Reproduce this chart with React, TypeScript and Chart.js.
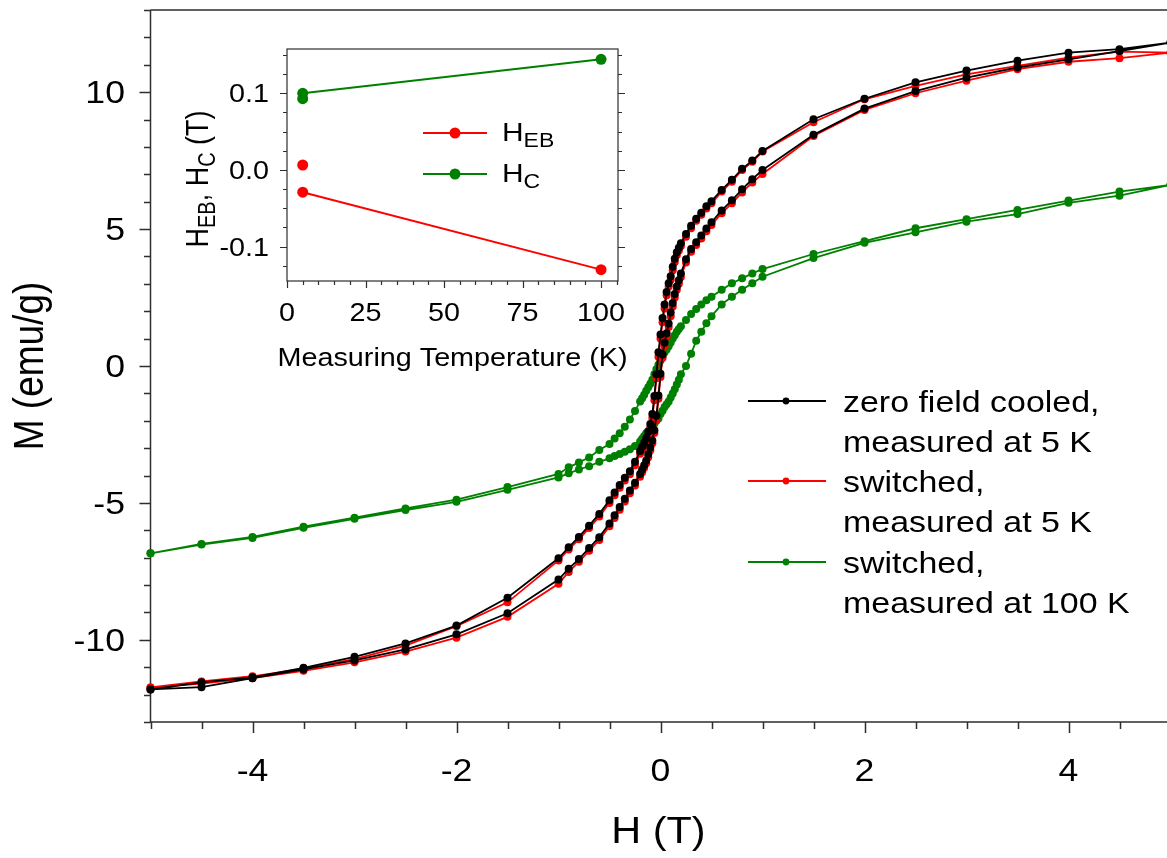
import React, { useEffect, useRef } from "react";
import { Chart, registerables } from "chart.js";
Chart.register(...registerables);

// ---------- main plot data: field (T), descending order 5 -> -5 ----------
const FIELD = [5, 4.5, 4, 3.5, 3, 2.5, 2, 1.5, 1, 0.9, 0.8, 0.7, 0.6, 0.5, 0.45, 0.4, 0.35, 0.3, 0.25, 0.2, 0.18, 0.16, 0.14, 0.12, 0.1, 0.08, 0.06, 0.04, 0.02, 0, -0.02, -0.04, -0.06, -0.08, -0.1, -0.12, -0.14, -0.16, -0.18, -0.2, -0.25, -0.3, -0.35, -0.4, -0.45, -0.5, -0.6, -0.7, -0.8, -0.9, -1, -1.5, -2, -2.5, -3, -3.5, -4, -4.5, -5];

// zero field cooled, measured at 5 K (black) - M (emu/g) at FIELD
const ZFC5_DOWN = [11.81, 11.57, 11.44, 11.15, 10.79, 10.36, 9.76, 9.01, 7.85, 7.5, 7.2, 6.8, 6.43, 6.02, 5.83, 5.6, 5.38, 5.12, 4.82, 4.48, 4.32, 4.15, 3.92, 3.62, 3.28, 3.02, 2.7, 2.25, 1.75, 1.15, 0.5, -0.3, -1.1, -1.75, -2.12, -2.4, -2.63, -2.8, -2.95, -3.1, -3.5, -3.84, -4.08, -4.35, -4.62, -4.9, -5.4, -5.83, -6.24, -6.62, -7.02, -8.46, -9.48, -10.13, -10.62, -11.02, -11.37, -11.55, -11.81];
const ZFC5_UP = [11.81, 11.5, 11.2, 10.9, 10.53, 10.04, 9.4, 8.44, 7.16, 6.82, 6.45, 6.05, 5.68, 5.25, 5.02, 4.77, 4.52, 4.27, 3.9, 3.38, 3.13, 2.9, 2.63, 2.3, 1.95, 1.55, 1.2, 0.85, 0.42, -0.28, -1.08, -1.82, -2.35, -2.72, -2.98, -3.22, -3.45, -3.62, -3.78, -3.94, -4.26, -4.55, -4.85, -5.15, -5.45, -5.75, -6.25, -6.65, -7.05, -7.4, -7.8, -9.03, -9.8, -10.35, -10.75, -11.08, -11.4, -11.73, -11.81];

// switched, measured at 5 K (red)
const SW5_DOWN = [11.44, 11.48, 11.26, 10.96, 10.65, 10.23, 9.74, 8.9, 7.83, 7.46, 7.16, 6.73, 6.37, 5.94, 5.75, 5.52, 5.3, 5.03, 4.72, 4.38, 4.22, 4.05, 3.8, 3.5, 3.15, 2.9, 2.58, 2.1, 1.6, 1.0, 0.34, -0.45, -1.25, -1.9, -2.25, -2.52, -2.75, -2.92, -3.06, -3.2, -3.62, -3.95, -4.18, -4.45, -4.72, -5.0, -5.5, -5.92, -6.33, -6.7, -7.1, -8.63, -9.5, -10.21, -10.7, -11.05, -11.33, -11.52, -11.74];
const SW5_UP = [11.44, 11.24, 11.11, 10.84, 10.42, 9.96, 9.35, 8.4, 7.01, 6.7, 6.34, 5.94, 5.58, 5.15, 4.92, 4.66, 4.42, 4.17, 3.78, 3.25, 3.0, 2.78, 2.5, 2.17, 1.82, 1.42, 1.07, 0.72, 0.3, -0.4, -1.2, -1.95, -2.45, -2.82, -3.08, -3.33, -3.55, -3.72, -3.88, -4.04, -4.36, -4.65, -4.95, -5.25, -5.55, -5.85, -6.35, -6.75, -7.15, -7.52, -7.95, -9.16, -9.92, -10.43, -10.82, -11.13, -11.4, -11.6, -11.74];

// switched, measured at 100 K (green)
const SW100_DOWN = [6.61, 6.37, 6.04, 5.7, 5.36, 5.03, 4.56, 4.09, 3.54, 3.38, 3.2, 3.02, 2.78, 2.53, 2.4, 2.25, 2.08, 1.9, 1.68, 1.45, 1.35, 1.25, 1.12, 1.0, 0.86, 0.72, 0.6, 0.5, 0.35, 0.2, 0.05, -0.12, -0.3, -0.5, -0.65, -0.78, -0.9, -1.05, -1.18, -1.3, -1.64, -1.95, -2.22, -2.46, -2.65, -2.85, -3.07, -3.34, -3.52, -3.7, -3.94, -4.42, -4.88, -5.2, -5.54, -5.87, -6.24, -6.5, -6.84];
const SW100_UP = [6.61, 6.22, 5.96, 5.55, 5.27, 4.88, 4.5, 3.94, 3.26, 3.02, 2.78, 2.53, 2.25, 1.82, 1.56, 1.25, 0.92, 0.45, 0.0, -0.3, -0.5, -0.68, -0.85, -1.0, -1.15, -1.3, -1.4, -1.5, -1.63, -1.75, -1.92, -2.0, -2.1, -2.19, -2.28, -2.37, -2.46, -2.56, -2.66, -2.76, -2.92, -3.04, -3.13, -3.21, -3.29, -3.37, -3.5, -3.66, -3.78, -3.92, -4.07, -4.52, -4.96, -5.26, -5.58, -5.91, -6.28, -6.52, -6.84];

const SERIES_LABELS = [
  ["zero field cooled,", "measured at 5 K"],
  ["switched,", "measured at 5 K"],
  ["switched,", "measured at 100 K"],
];
const SERIES_COLORS = ["#000000", "#ff0000", "#008000"];

const X_TICKS = [-4, -2, 0, 2, 4];
const Y_TICKS = [-10, -5, 0, 5, 10];

// ---------- inset data ----------
const INSET_TEMP = [5, 100];
const HEB = [-0.029, -0.13];
const HEB_5K_EXTRA = [0.0065];
const HC = [0.1, 0.1443];
const HC_5K_EXTRA = [0.093];
const INSET_X_TICKS = [0, 25, 50, 75, 100];
const INSET_Y_TICKS = [-0.1, 0, 0.1];
const INSET_Y_LABELS = ["-0.1", "0.0", "0.1"];

// ---------- text helpers ----------
const SX = 1.15;
const FAM = '"Liberation Sans", Arial, Helvetica, sans-serif';
const AXIS = "#2e2e2e";

type Run = { t: string; size: number; dy?: number };

function drawRuns(ctx: CanvasRenderingContext2D, parts: Run[], x: number, y: number, align: "left" | "center" | "right", rot = 0) {
  ctx.save();
  ctx.translate(x, y);
  ctx.scale(SX, 1);
  if (rot) ctx.rotate(rot);
  ctx.fillStyle = "#000";
  ctx.textBaseline = "alphabetic";
  ctx.textAlign = "left";
  const widths = parts.map((p) => {
    ctx.font = `${p.size}px ${FAM}`;
    return ctx.measureText(p.t).width;
  });
  const total = widths.reduce((a, b) => a + b, 0);
  let cx = align === "center" ? -total / 2 : align === "right" ? -total : 0;
  parts.forEach((p, i) => {
    ctx.font = `${p.size}px ${FAM}`;
    ctx.fillText(p.t, cx, p.dy || 0);
    cx += widths[i];
  });
  ctx.restore();
}
function text(ctx: CanvasRenderingContext2D, s: string, x: number, y: number, size: number, align: "left" | "center" | "right", rot = 0) {
  drawRuns(ctx, [{ t: s, size }], x, y, align, rot);
}

function loop(down: number[], up: number[]) {
  const pts: { x: number; y: number }[] = [];
  for (let i = 0; i < FIELD.length; i++) pts.push({ x: FIELD[i], y: down[i] });
  for (let i = FIELD.length - 1; i >= 0; i--) pts.push({ x: FIELD[i], y: up[i] });
  return pts;
}

const mainAxes = {
  id: "mainAxes",
  beforeDatasetsDraw(chart: any) {
    const { ctx, chartArea: a, scales } = chart;
    const xs = scales.x, ys = scales.y;
    ctx.save();
    ctx.strokeStyle = AXIS;
    ctx.lineWidth = 1.5;
    ctx.beginPath();
    ctx.moveTo(a.left, a.top);
    ctx.lineTo(a.right, a.top);
    ctx.moveTo(a.left, a.top);
    ctx.lineTo(a.left, a.bottom);
    ctx.lineTo(a.right, a.bottom);
    ctx.lineTo(a.right, a.top);
    for (let v = -13; v <= 13; v++) {
      const y = Math.round(ys.getPixelForValue(v)) + 0.5;
      const len = v % 5 === 0 ? 11 : 6.5;
      ctx.moveTo(a.left, y);
      ctx.lineTo(a.left - len, y);
    }
    for (let k = -10; k <= 10; k++) {
      const x = Math.round(xs.getPixelForValue(k / 2)) + 0.5;
      const len = k % 4 === 0 ? 11 : 7;
      ctx.moveTo(x, a.bottom);
      ctx.lineTo(x, a.bottom + len);
    }
    ctx.stroke();
    ctx.restore();
  },
  afterDraw(chart: any) {
    const { ctx, chartArea: a, scales } = chart;
    const xs = scales.x, ys = scales.y;
    const tsz = 31;
    Y_TICKS.forEach((v) => text(ctx, String(v), 125, ys.getPixelForValue(v) + 0.358 * tsz, tsz, "right"));
    X_TICKS.forEach((v) => text(ctx, String(v), xs.getPixelForValue(v), 781, tsz, "center"));
    text(ctx, "H (T)", (a.left + a.right) / 2 - 2, 843, 36, "center");
    text(ctx, "M (emu/g)", 43, (a.top + a.bottom) / 2, 37, "center", -Math.PI / 2);
    // legend
    const rows = [401, 481, 562];
    rows.forEach((y, i) => {
      ctx.save();
      ctx.strokeStyle = SERIES_COLORS[i];
      ctx.fillStyle = SERIES_COLORS[i];
      ctx.lineWidth = 1.8;
      ctx.beginPath();
      ctx.moveTo(748, y);
      ctx.lineTo(826, y);
      ctx.stroke();
      ctx.beginPath();
      ctx.arc(786, y, 3.4, 0, Math.PI * 2);
      ctx.fill();
      ctx.restore();
      text(ctx, SERIES_LABELS[i][0], 843, y + 11, 29.5, "left");
      text(ctx, SERIES_LABELS[i][1], 843, y + 51, 29.5, "left");
    });
  },
};

const insetDecor = {
  id: "insetDecor",
  beforeDatasetsDraw(chart: any) {
    const { ctx, chartArea: a, scales } = chart;
    const xs = scales.x, ys = scales.y;
    ctx.save();
    ctx.strokeStyle = AXIS;
    ctx.lineWidth = 1.2;
    ctx.strokeRect(a.left, a.top, a.right - a.left, a.bottom - a.top);
    ctx.beginPath();
    for (let k = -5; k <= 6; k++) {
      const v = k * 0.025;
      const y = Math.round(ys.getPixelForValue(v)) + 0.5;
      const major = k % 4 === 0;
      const len = major ? 7 : 4;
      ctx.moveTo(a.left, y);
      ctx.lineTo(a.left - len, y);
      ctx.moveTo(a.right, y);
      ctx.lineTo(a.right + len, y);
    }
    for (let v = 0; v <= 105; v += 5) {
      const x = Math.round(xs.getPixelForValue(v)) + 0.5;
      const len = v % 25 === 0 ? 7 : 4;
      ctx.moveTo(x, a.bottom);
      ctx.lineTo(x, a.bottom + len);
    }
    ctx.stroke();
    ctx.restore();
  },
  afterDraw(chart: any) {
    const { ctx, chartArea: a, scales } = chart;
    const xs = scales.x, ys = scales.y;
    const tsz = 25;
    INSET_Y_TICKS.forEach((v, i) => text(ctx, INSET_Y_LABELS[i], a.left - 18, ys.getPixelForValue(v) + 0.358 * tsz, tsz, "right"));
    INSET_X_TICKS.forEach((v) => text(ctx, String(v), xs.getPixelForValue(v), a.bottom + 40, tsz, "center"));
    text(ctx, "Measuring Temperature (K)", (a.left + a.right) / 2, a.bottom + 85, 25, "center");
    drawRuns(
      ctx,
      [
        { t: "H", size: 27 },
        { t: "EB", size: 20, dy: 6 },
        { t: ", H", size: 27 },
        { t: "C", size: 20, dy: 6 },
        { t: " (T)", size: 27 },
      ],
      28,
      a.top + 130,
      "center",
      -Math.PI / 2
    );
    // inset legend
    const rows = [
      { y: a.top + 84, c: "#ff0000", sub: "EB" },
      { y: a.top + 125, c: "#008000", sub: "C" },
    ];
    rows.forEach((r) => {
      ctx.save();
      ctx.strokeStyle = r.c;
      ctx.fillStyle = r.c;
      ctx.lineWidth = 2;
      ctx.beginPath();
      ctx.moveTo(a.left + 136, r.y);
      ctx.lineTo(a.left + 200, r.y);
      ctx.stroke();
      ctx.beginPath();
      ctx.arc(a.left + 168, r.y, 5.5, 0, Math.PI * 2);
      ctx.fill();
      ctx.restore();
      drawRuns(ctx, [{ t: "H", size: 26 }, { t: r.sub, size: 20, dy: 6 }], a.left + 215, r.y + 8, "left");
    });
  },
};

export default function App() {
  const mainRef = useRef<HTMLCanvasElement>(null);
  const insetRef = useRef<HTMLCanvasElement>(null);

  useEffect(() => {
    const ds = (data: any[], color: string) => ({
      data,
      showLine: true,
      borderColor: color,
      backgroundColor: color,
      pointBackgroundColor: color,
      pointBorderColor: color,
      pointBorderWidth: 0,
      pointRadius: 4,
      borderWidth: 1.8,
      tension: 0,
      clip: false as any,
    });
    const main = new Chart(mainRef.current as HTMLCanvasElement, {
      type: "scatter",
      data: {
        datasets: [
          ds(loop(ZFC5_DOWN, ZFC5_UP), SERIES_COLORS[0]),
          ds(loop(SW5_DOWN, SW5_UP), SERIES_COLORS[1]),
          ds(loop(SW100_DOWN, SW100_UP), SERIES_COLORS[2]),
        ],
      },
      options: {
        animation: false,
        responsive: false,
        devicePixelRatio: 1,
        layout: { padding: { left: 150.5, top: 10, right: 1190 - 1170.5, bottom: 858 - 722 } },
        scales: {
          x: { type: "linear", min: -5, max: 5, display: false },
          y: { type: "linear", min: -13, max: 13, display: false },
        },
        plugins: { legend: { display: false }, tooltip: { enabled: false } },
      },
      plugins: [mainAxes],
    });

    const ids = (data: any[], color: string, line: boolean) => ({
      data,
      showLine: line,
      borderColor: color,
      backgroundColor: color,
      pointBackgroundColor: color,
      pointBorderWidth: 0,
      pointRadius: 5.5,
      borderWidth: 2,
      clip: false as any,
    });
    const inset = new Chart(insetRef.current as HTMLCanvasElement, {
      type: "scatter",
      data: {
        datasets: [
          ids(INSET_TEMP.map((t, i) => ({ x: t, y: HEB[i] })), "#ff0000", true),
          ids(HEB_5K_EXTRA.map((y) => ({ x: INSET_TEMP[0], y })), "#ff0000", false),
          ids(INSET_TEMP.map((t, i) => ({ x: t, y: HC[i] })), "#008000", true),
          ids(HC_5K_EXTRA.map((y) => ({ x: INSET_TEMP[0], y })), "#008000", false),
        ],
      },
      options: {
        animation: false,
        responsive: false,
        devicePixelRatio: 1,
        layout: { padding: { left: 107, top: 14, right: 22, bottom: 99 } },
        scales: {
          x: { type: "linear", min: 0, max: 105.4, display: false },
          y: { type: "linear", min: -0.1448, max: 0.1578, display: false },
        },
        plugins: { legend: { display: false }, tooltip: { enabled: false } },
      },
      plugins: [insetDecor],
    });

    return () => {
      main.destroy();
      inset.destroy();
    };
  }, []);

  return (
    <div style={{ position: "fixed", left: 0, top: 0, width: 1167, height: 858, overflow: "hidden", background: "#fff" }}>
      <canvas ref={mainRef} width={1190} height={858} style={{ position: "absolute", left: 0, top: 0, width: 1190, height: 858 }} />
      <canvas ref={insetRef} width={460} height={345} style={{ position: "absolute", left: 180, top: 35, width: 460, height: 345 }} />
    </div>
  );
}
